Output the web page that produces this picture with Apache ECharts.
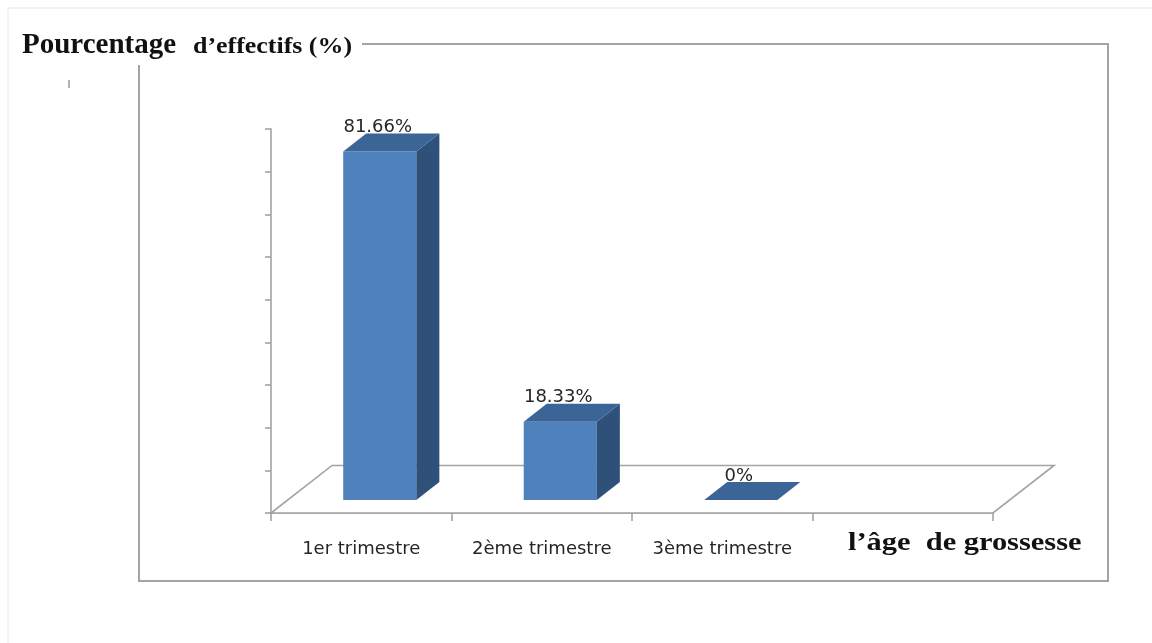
<!DOCTYPE html>
<html>
<head>
<meta charset="utf-8">
<script src="https://cdn.jsdelivr.net/npm/echarts@6/dist/echarts.min.js"></script>
<style>
  html, body { margin: 0; padding: 0; background: #ffffff; }
  #chart { width: 1152px; height: 643px; }
</style>
</head>
<body>
<div id="chart"></div>
<script>
// Trimestre de grossesse et pourcentage d'effectifs
const categories = ['1er trimestre', '2ème trimestre', '3ème trimestre', ''];
const percentages = [81.66, 18.33, 0];
const yMin = 0;
const yMax = 90;
const yStep = 10;

const yTitleMain = 'Pourcentage';
const yTitleSub = 'd’effectifs (%)';
const xTitle = 'l’âge  de grossesse';

// 3D look: colours of the three visible faces of each column
const FRONT = '#4f81bd';
const SIDE = '#2f5079';
const TOP = '#3b6497';
const GRID_LINE = '#a3a3a3';
const SERIF = "'Liberation Serif', 'Times New Roman', serif";
const SANS = "'DejaVu Sans', sans-serif";

// Geometry of the pseudo-3D projection, as fractions of one category band
const BAR_W = 0.405;        // width of a column front
const BAR_OX = 0.1026;      // column front pushed back into the floor
const BAR_OY = -0.0721;
const BAR_DX = 0.1276;      // column depth
const BAR_DY = -0.0999;
const FLOOR_DX = 0.338;     // full floor depth
const FLOOR_DY = -0.2635;

function renderFloor(params, api) {
  const band = api.size([1, 0])[0];
  const first = api.coord([0, yMin]);
  const last = api.coord([categories.length - 1, yMin]);
  const xl = first[0] - band / 2;
  const xr = last[0] + band / 2;
  const y = first[1];
  const dx = band * FLOOR_DX, dy = band * FLOOR_DY;
  return {
    type: 'polygon',
    shape: { points: [[xl, y], [xr, y], [xr + dx, y + dy], [xl + dx, y + dy]] },
    style: { fill: '#ffffff', stroke: GRID_LINE, lineWidth: 1.6 }
  };
}

function renderBar(params, api) {
  const i = api.value(0);
  const v = api.value(1);
  const band = api.size([1, 0])[0];
  const base = api.coord([i, yMin]);
  const top = api.coord([i, v]);
  const w = band * BAR_W;
  const ox = band * BAR_OX, oy = band * BAR_OY;
  const dx = band * BAR_DX, dy = band * BAR_DY;
  const x0 = base[0] + ox - w / 2;
  const x1 = x0 + w;
  const yb = base[1] + oy;
  const yt = top[1] + oy;
  const children = [];
  if (yb - yt > 0.5) {
    children.push({
      type: 'rect',
      shape: { x: x0, y: yt, width: w, height: yb - yt },
      style: { fill: FRONT }
    });
    children.push({
      type: 'polygon',
      shape: { points: [[x1, yb], [x1 + dx, yb + dy], [x1 + dx, yt + dy], [x1, yt]] },
      style: { fill: SIDE }
    });
  }
  children.push({
    type: 'polygon',
    shape: { points: [[x0, yt], [x1, yt], [x1 + dx, yt + dy], [x0 + dx, yt + dy]] },
    style: { fill: TOP }
  });
  children.push({
    type: 'text',
    style: {
      text: v + '%',
      x: (x0 + x1) / 2 - 2,
      y: yt + dy - 6,
      align: 'center',
      verticalAlign: 'middle',
      fill: '#262626',
      font: '18px ' + SANS
    }
  });
  return { type: 'group', children: children };
}

const chart = echarts.init(document.getElementById('chart'), null, { renderer: 'canvas' });

chart.setOption({
  backgroundColor: '#ffffff',
  animation: false,
  grid: { left: 271, right: 159, top: 129, bottom: 130, containLabel: false },
  xAxis: {
    type: 'category',
    data: categories,
    boundaryGap: true,
    axisLine: { show: true, lineStyle: { color: GRID_LINE, width: 1.6 } },
    axisTick: { show: true, length: 8, interval: 0, lineStyle: { color: GRID_LINE, width: 1.6 } },
    axisLabel: {
      interval: 0,
      margin: 27,
      color: '#262626',
      fontFamily: SANS,
      fontSize: 18
    },
    splitLine: { show: false }
  },
  yAxis: {
    type: 'value',
    min: yMin,
    max: yMax,
    interval: yStep,
    axisLine: { show: true, lineStyle: { color: GRID_LINE, width: 1.6 } },
    axisTick: { show: true, length: 6, lineStyle: { color: GRID_LINE, width: 1.6 } },
    axisLabel: { show: false },
    splitLine: { show: false }
  },
  series: [
    {
      type: 'custom',
      name: 'sol',
      z: 1,
      silent: true,
      renderItem: renderFloor,
      data: [[0, yMin]],
      encode: { x: 0, y: 1 }
    },
    {
      type: 'custom',
      name: 'Pourcentage',
      z: 3,
      renderItem: renderBar,
      data: percentages.map((p, i) => [i, p]),
      encode: { x: 0, y: 1 }
    }
  ],
  graphic: [
    // faint page border
    {
      type: 'polyline',
      shape: { points: [[1152, 8], [8, 8], [8, 643]] },
      style: { stroke: '#e6e6e6', lineWidth: 1, fill: null },
      silent: true
    },
    // chart frame, interrupted by the axis title
    {
      type: 'polyline',
      shape: { points: [[362, 44], [1108, 44], [1108, 581], [139, 581], [139, 65]] },
      style: { stroke: GRID_LINE, lineWidth: 2, fill: null },
      silent: true
    },
    // small stray mark
    {
      type: 'line',
      shape: { x1: 69, y1: 80, x2: 69, y2: 88 },
      style: { stroke: '#9a9a9a', lineWidth: 1.5 },
      silent: true
    },
    {
      type: 'text',
      x: 22, y: 46,
      style: {
        text: yTitleMain, x: 0, y: 0, align: 'left', verticalAlign: 'middle',
        fill: '#111111', font: 'bold 29px ' + SERIF
      }
    },
    {
      type: 'text',
      x: 193, y: 47, scaleX: 1.08,
      style: {
        text: yTitleSub, x: 0, y: 0, align: 'left', verticalAlign: 'middle',
        fill: '#111111', font: 'bold 24px ' + SERIF
      }
    },
    {
      type: 'text',
      x: 848, y: 543, scaleX: 1.17,
      style: {
        text: xTitle, x: 0, y: 0, align: 'left', verticalAlign: 'middle',
        fill: '#111111', font: 'bold 26px ' + SERIF
      }
    }
  ]
});
</script>
</body>
</html>
